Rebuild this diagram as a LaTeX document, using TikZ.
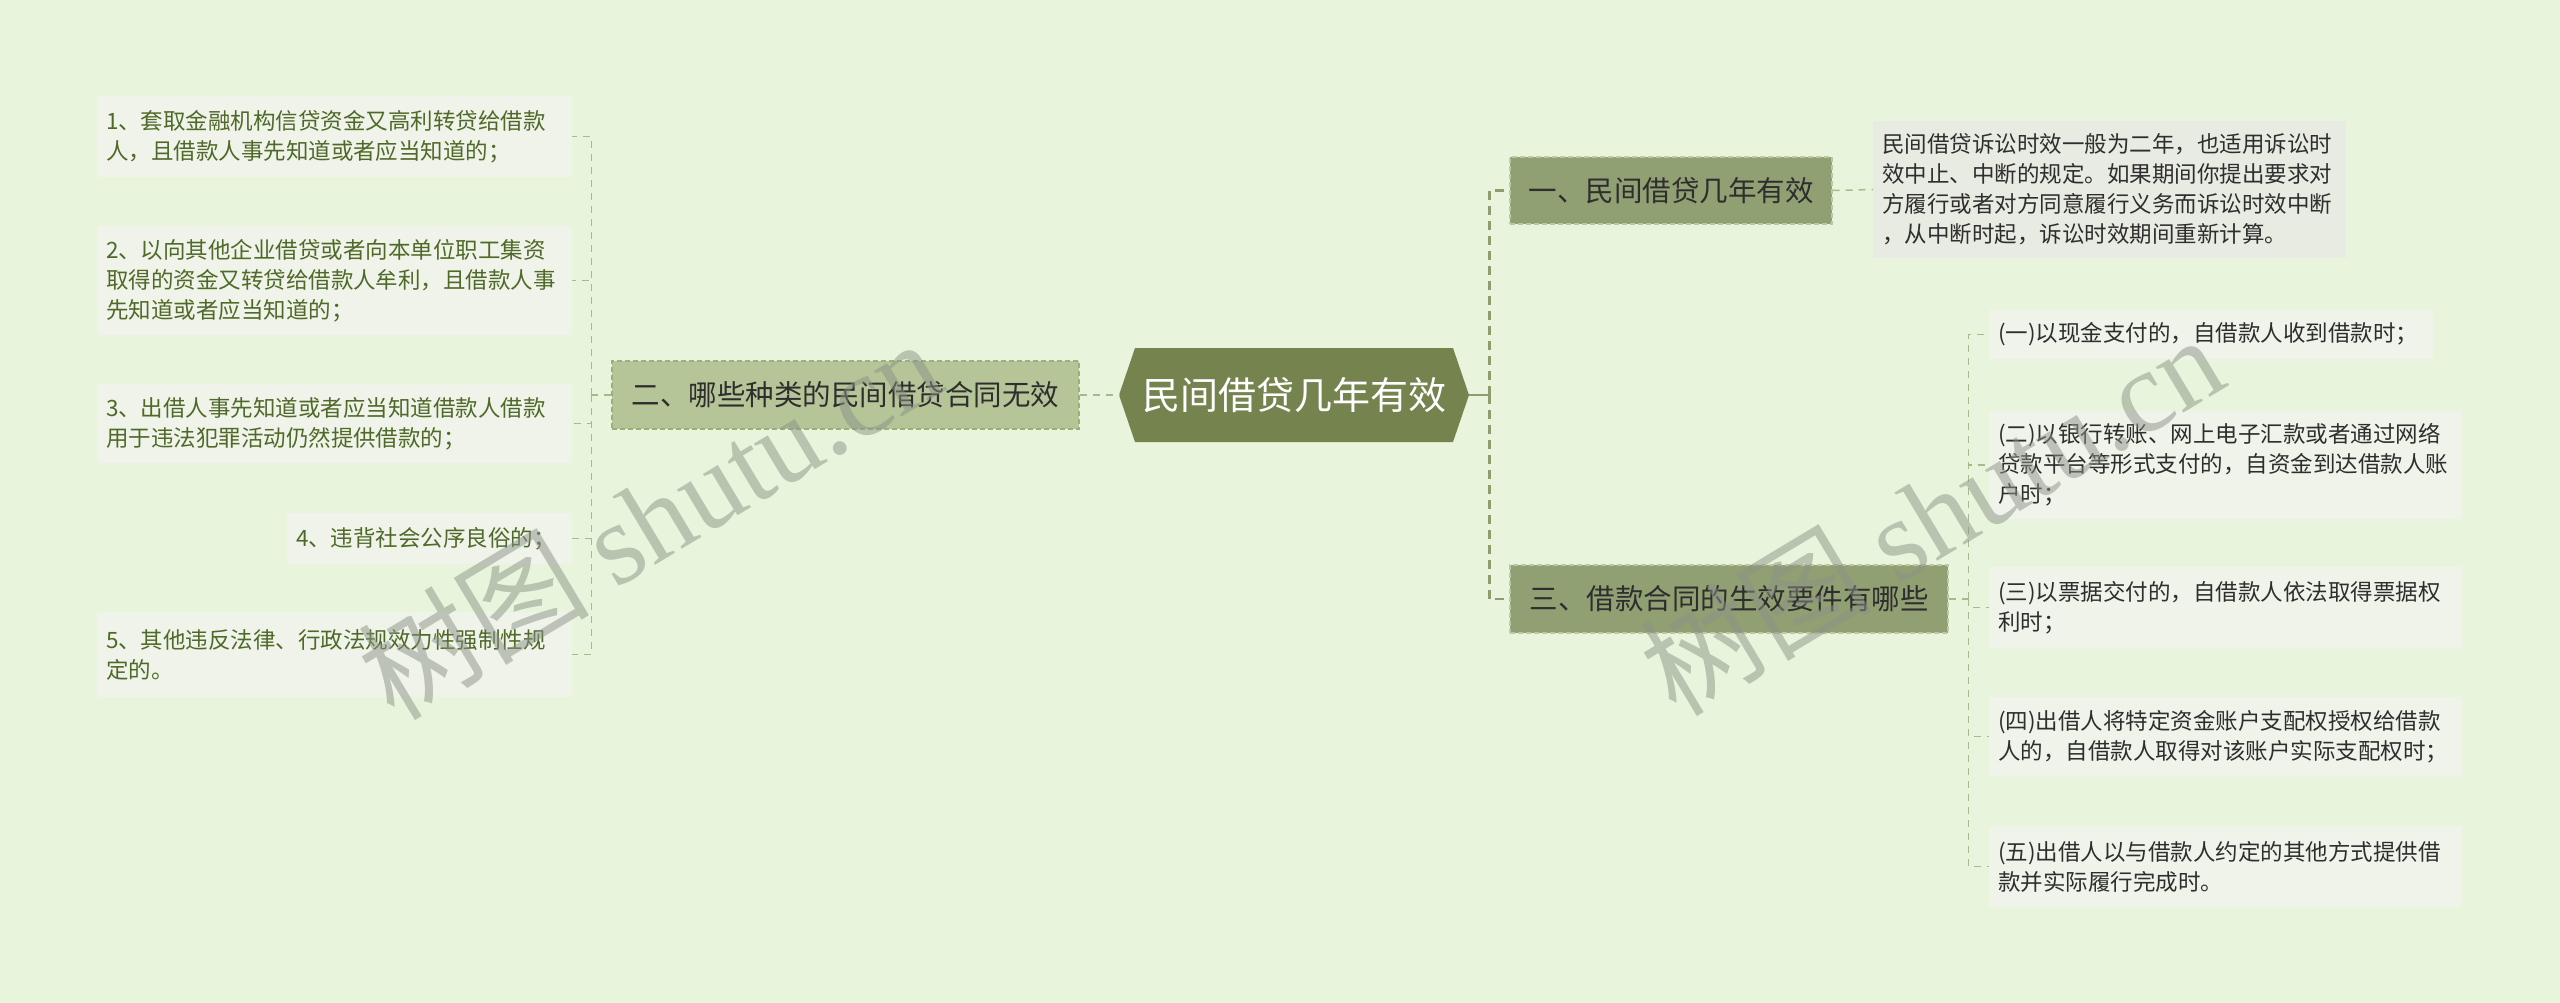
\documentclass[tikz,border=0pt]{standalone}
\usepackage{fontspec}
\setmainfont{Noto Sans CJK SC}
\newfontfamily\wmlatin{Liberation Serif}
\usetikzlibrary{calc}
\definecolor{bgc}{HTML}{E8F5DC}
\definecolor{rootfill}{HTML}{75844F}
\definecolor{midfill}{HTML}{91A073}
\definecolor{midborder}{HTML}{BCC7A6}
\definecolor{lightfill}{HTML}{B5C597}
\definecolor{lightborder}{HTML}{9DB07C}
\definecolor{itemfill}{HTML}{EFF3E9}
\definecolor{notefill}{HTML}{E8EBE1}
\definecolor{olivetext}{HTML}{4F6A28}
\definecolor{darktext}{HTML}{2E2E2E}
\definecolor{mainline}{HTML}{8E9C6E}
\definecolor{thinline}{HTML}{A9B98A}
\definecolor{wmcol}{HTML}{8A9286}
\tikzset{
  itembox/.style={fill=itemfill, inner xsep=9pt, inner ysep=0pt, align=left,
    font=\fontsize{22.5}{30}\selectfont, anchor=center},
  litem/.style={itembox, text=olivetext},
  ritem/.style={itembox, text=darktext},
  notebox/.style={itembox, fill=notefill, text=darktext},
  midbox/.style={fill=midfill, draw=midborder, dashed, dash pattern=on 5pt off 3pt, line width=1.2pt,
    text=darktext, font=\fontsize{28.5}{34}\selectfont, inner sep=0pt, anchor=center},
  lightbox/.style={midbox, fill=lightfill, draw=lightborder},
  mainconn/.style={draw=mainline, line width=2.6pt, dash pattern=on 9pt off 6pt},
  thinconn/.style={draw=thinline, line width=1.5pt, dash pattern=on 7pt off 6pt},
  wmark/.style={text=wmcol, opacity=0.5, font=\fontsize{116}{120}\selectfont, rotate=31, anchor=center}
}
\begin{document}
\begin{tikzpicture}[x=1pt,y=-1pt]
\useasboundingbox (0,0) rectangle (2560,1003);
\fill[bgc] (0,0) rectangle (2560,1003);

% root hexagon
\fill[rootfill] (1119,395) -- (1135,348) -- (1453,348) -- (1469,395) -- (1453,442) -- (1135,442) -- cycle;
\node[minimum width=350pt, minimum height=94pt, inner sep=0pt, text=white,
  font=\fontsize{38}{44}\selectfont] (root) at (1294,395) {民间借贷几年有效};

% level-1 boxes
\node[lightbox, minimum width=467pt, minimum height=68pt] (b2) at (845.5,395) {二、哪些种类的民间借贷合同无效};
\node[midbox, minimum width=322pt, minimum height=67pt] (b1) at (1671,190.5) {一、民间借贷几年有效};
\node[midbox, minimum width=438pt, minimum height=68pt] (b3) at (1729,599) {三、借款合同的生效要件有哪些};

% note of b1
\node[notebox, text width=455pt, minimum height=137pt] (n1) at (2109.5,189.5)
  {民间借贷诉讼时效一般为二年，也适用诉讼时\\效中止、中断的规定。如果期间你提出要求对\\方履行或者对方同意履行义务而诉讼时效中断\\，从中断时起，诉讼时效期间重新计算。};

% left items
\node[litem, text width=457pt, minimum height=81pt] (L1) at (334.5,136.5)
  {1、套取金融机构信贷资金又高利转贷给借款\\人，且借款人事先知道或者应当知道的；};
\node[litem, text width=457pt, minimum height=109pt] (L2) at (334.5,280.5)
  {2、以向其他企业借贷或者向本单位职工集资\\取得的资金又转贷给借款人牟利，且借款人事\\先知道或者应当知道的；};
\node[litem, text width=457pt, minimum height=79pt] (L3) at (334.5,423.5)
  {3、出借人事先知道或者应当知道借款人借款\\用于违法犯罪活动仍然提供借款的；};
\node[litem, text width=267pt, minimum height=51pt] (L4) at (429.5,538.5)
  {4、违背社会公序良俗的；};
\node[litem, text width=457pt, minimum height=85pt] (L5) at (334.5,654.5)
  {5、其他违反法律、行政法规效力性强制性规\\定的。};

% right items
\node[ritem, text width=426pt, minimum height=49pt] (R1) at (2211,334.5)
  {(一)以现金支付的，自借款人收到借款时；};
\node[ritem, text width=455pt, minimum height=108pt] (R2) at (2225.5,465)
  {(二)以银行转账、网上电子汇款或者通过网络\\贷款平台等形式支付的，自资金到达借款人账\\户时；};
\node[ritem, text width=455pt, minimum height=81pt] (R3) at (2225.5,607.5)
  {(三)以票据交付的，自借款人依法取得票据权\\利时；};
\node[ritem, text width=455pt, minimum height=79pt] (R4) at (2225.5,736.5)
  {(四)出借人将特定资金账户支配权授权给借款\\人的，自借款人取得对该账户实际支配权时；};
\node[ritem, text width=455pt, minimum height=81pt] (R5) at (2225.5,866.5)
  {(五)出借人以与借款人约定的其他方式提供借\\款并实际履行完成时。};

% connectors
\draw[thinconn] (b2.east) -- (root.west);
\draw[mainline, line width=2.6pt] (root.east) -- ++(20,0) coordinate (rj);
\draw[mainconn] (rj) |- (b1.west);
\draw[mainconn] (rj) |- (b3.west);
\draw[thinconn] (b1.east) -- (n1.west);
\draw[thinconn] (b2.west) -- ++(-20,0) coordinate (lj);
\foreach \n in {L1,L2,L3,L4,L5} { \draw[thinconn] (lj) |- (\n.east); }
\draw[thinconn] (b3.east) -- ++(20,0) coordinate (rj2);
\foreach \n in {R1,R2,R3,R4,R5} { \draw[thinconn] (rj2) |- (\n.west); }

% watermarks
\node[wmark] (wm1) at (649,518) {树图 {\wmlatin shutu.cn}};
\node[wmark] (wm2) at (1931,514) {树图 {\wmlatin shutu.cn}};
\end{tikzpicture}
\end{document}
